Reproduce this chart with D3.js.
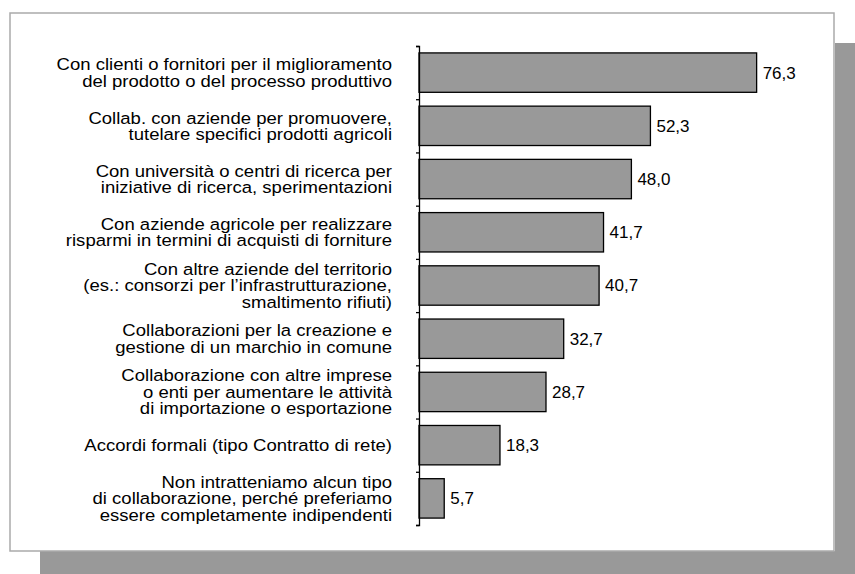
<!DOCTYPE html>
<html>
<head>
<meta charset="utf-8">
<script src="https://cdn.jsdelivr.net/npm/d3@7"></script>
<style>
  body { margin: 0; background: #fff; }
  text { font-family: "Liberation Sans", Arial, sans-serif; }
</style>
</head>
<body>
<div class="chart"></div>
<script>
// categories (line breaks as in the original), top to bottom
const categories = [
    "Con clienti o fornitori per il miglioramento\ndel prodotto o del processo produttivo",
    "Collab. con aziende per promuovere,\ntutelare specifici prodotti agricoli",
    "Con università o centri di ricerca per\niniziative di ricerca, sperimentazioni",
    "Con aziende agricole per realizzare\nrisparmi in termini di acquisti di forniture",
    "Con altre aziende del territorio\n(es.: consorzi per l’infrastrutturazione,\nsmaltimento rifiuti)",
    "Collaborazioni per la creazione e\ngestione di un marchio in comune",
    "Collaborazione con altre imprese\no enti per aumentare le attività\ndi importazione o esportazione",
    "Accordi formali (tipo Contratto di rete)",
    "Non intratteniamo alcun tipo\ndi collaborazione, perché preferiamo\nessere completamente indipendenti"
];
const values = [76.3, 52.3, 48.0, 41.7, 40.7, 32.7, 28.7, 18.3, 5.7];

const width = 855;
const height = 574;

const svg = d3.select(".chart")
    .append("svg")
    .attr("width", width)
    .attr("height", height);

// drop shadow behind the panel
svg.append("rect")
    .attr("x", 835).attr("y", 43)
    .attr("width", 20).attr("height", height - 43)
    .attr("fill", "#999999");
svg.append("rect")
    .attr("x", 40).attr("y", 551)
    .attr("width", width - 40).attr("height", height - 551)
    .attr("fill", "#999999");

// white panel
svg.append("rect")
    .attr("x", 10).attr("y", 13)
    .attr("width", 824).attr("height", 538)
    .attr("fill", "#fff")
    .attr("stroke", "#aaaaaa")
    .attr("stroke-width", 1.5);

const y = d3.scaleBand()
    .domain(categories)
    .range([46, 525])
    .paddingInner(0.26)
    .paddingOuter(0.13);

const x = d3.scaleLinear()
    .domain([0, 80])
    .range([419, 773]);

// bars
svg.selectAll(".bar")
    .data(values)
    .enter()
    .append("rect")
    .attr("class", "bar")
    .attr("x", x(0))
    .attr("y", (d, i) => y(categories[i]))
    .attr("width", d => x(d) - x(0))
    .attr("height", y.bandwidth())
    .attr("fill", "#999999")
    .attr("stroke", "#000")
    .attr("stroke-width", 1.3);

// axis with ticks between the categories
const tickPos = d3.scaleLinear()
    .domain([0, categories.length])
    .range([46, 525]);
svg.append("g")
    .attr("transform", "translate(" + x(0) + ",0)")
    .call(d3.axisLeft(tickPos)
        .ticks(categories.length)
        .tickSize(3)
        .tickFormat(""))
    .call(g => g.select(".domain").attr("stroke-width", 1.3))
    .call(g => g.selectAll(".tick line").attr("stroke-width", 1.3));

// value labels
svg.selectAll(".value-label")
    .data(values)
    .enter()
    .append("text")
    .attr("class", "value-label")
    .attr("x", d => x(d) + 6)
    .attr("y", (d, i) => y(categories[i]) + y.bandwidth() / 2)
    .attr("dy", "0.35em")
    .attr("font-size", "17px")
    .attr("fill", "#000")
    .text(d => d3.format(".1f")(d).replace(".", ","));

// category labels, right aligned, multi-line (a bit wider than Liberation)
const lineHeight = 16.5;
const labels = svg.selectAll(".cat-label")
    .data(categories)
    .enter()
    .append("text")
    .attr("class", "cat-label")
    .attr("text-anchor", "end")
    .attr("font-size", "17px")
    .attr("fill", "#000")
    .attr("transform", "translate(392,0) scale(1.09,1)");

labels.each(function(cat) {
    const lines = cat.split("\n");
    const cy = y(cat) + y.bandwidth() / 2;
    const top = cy - (lines.length - 1) * lineHeight / 2;
    d3.select(this).selectAll("tspan")
        .data(lines)
        .enter()
        .append("tspan")
        .attr("x", 0)
        .attr("y", (l, j) => top + j * lineHeight)
        .attr("dy", "0.35em")
        .text(l => l);
});
</script>
</body>
</html>
